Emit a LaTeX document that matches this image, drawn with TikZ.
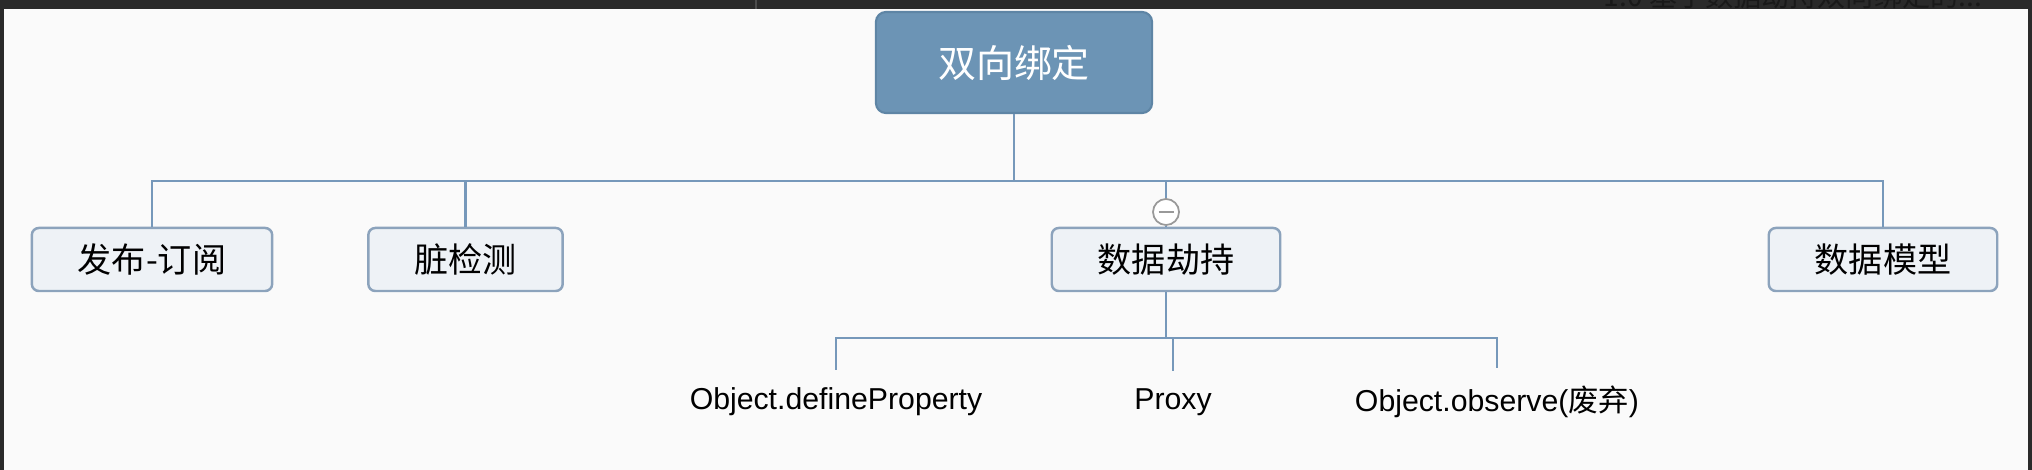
\documentclass[tikz,border=0pt]{standalone}
\usepackage{fontspec}
\setmainfont{Liberation Sans}
\newfontfamily\cjk{Noto Sans CJK SC}
\definecolor{rootblue}{HTML}{6C94B5}
\definecolor{rootedge}{HTML}{5E85A5}
\definecolor{childfill}{HTML}{EEF2F6}
\definecolor{childedge}{HTML}{8CA3BC}
\definecolor{branchblue}{HTML}{7698BA}
\definecolor{pagebg}{HTML}{FAFAFA}
\definecolor{darkbar}{HTML}{2A2A2A}
\tikzset{
  root/.style={draw=rootedge, fill=rootblue, rounded corners=0.1cm, line width=0.6pt,
    minimum width=2.76cm, minimum height=1.01cm, text=white,
    font=\cjk\fontsize{10.8}{13}\selectfont},
  child/.style={draw=childedge, fill=childfill, rounded corners=0.07cm, line width=0.7pt,
    minimum height=0.63cm, inner xsep=0.46cm, font=\cjk\fontsize{9.7}{11.6}\selectfont},
  leaf/.style={inner xsep=0pt, inner ysep=0.17cm, font=\fontsize{8.6}{10.3}\selectfont},
  branch/.style={draw=branchblue, line width=0.6pt},
  fold/.style={circle, draw=gray!80, fill=white, line width=0.5pt, minimum size=0.26cm, inner sep=0pt}
}
\begin{document}
\begin{tikzpicture}[x=0.01cm, y=-0.01cm]
  \useasboundingbox (0,0) rectangle (2032,470);
  % page and window frame
  \fill[pagebg] (0,0) rectangle (2032,470);
  \fill[darkbar] (0,0) rectangle (2032,9.5);
  \fill[darkbar] (0,0) rectangle (4,470);
  \fill[darkbar] (2028,0) rectangle (2032,470);
  \draw[black!70, line width=0.6pt] (756,0) -- (756,9);
  \begin{scope}
    \clip (0,0) rectangle (2032,9.5);
    \node[anchor=base west, inner sep=0pt, text=black!90, font=\cjk\fontsize{8}{9.6}\selectfont] (tab) at (1603,7) {1.0 基于数据劫持双向绑定的...};
  \end{scope}

  % nodes
  \node[root] (main) at (1014,62.5) {双向绑定};
  \node[child] (pub) at (152,259.5) {发布-订阅};
  \node[child] (dirty) at (465.5,259.5) {脏检测};
  \node[child] (hijack) at (1166,259.5) {数据劫持};
  \node[child] (model) at (1883,259.5) {数据模型};
  \node[fold] (minus) at (1166,212) {};
  \node[leaf] (defprop) at (836,402) {Object.defineProperty};
  \node[leaf] (proxy) at (1173,402) {Proxy};
  \node[leaf] (observe) at (1497,402) {Object.observe({\cjk 废弃})};

  \coordinate (bus) at (1014,181);
  \coordinate (subbus) at (1166,338);

  % connectors
  \draw[branch] (main) -- (bus);
  \foreach \n in {pub,dirty,model}
    \draw[branch] (bus) -| (\n.north);
  \draw[branch] (bus) -| (minus.north);
  \draw[branch] (minus) -- (hijack);
  \draw[gray!80, line width=0.8pt] ([xshift=-0.075cm]minus.center) -- ([xshift=0.075cm]minus.center);
  \draw[branch] (hijack) -- (subbus);
  \foreach \n in {defprop,proxy,observe}
    \draw[branch] (subbus) -| (\n.north);
\end{tikzpicture}
\end{document}
